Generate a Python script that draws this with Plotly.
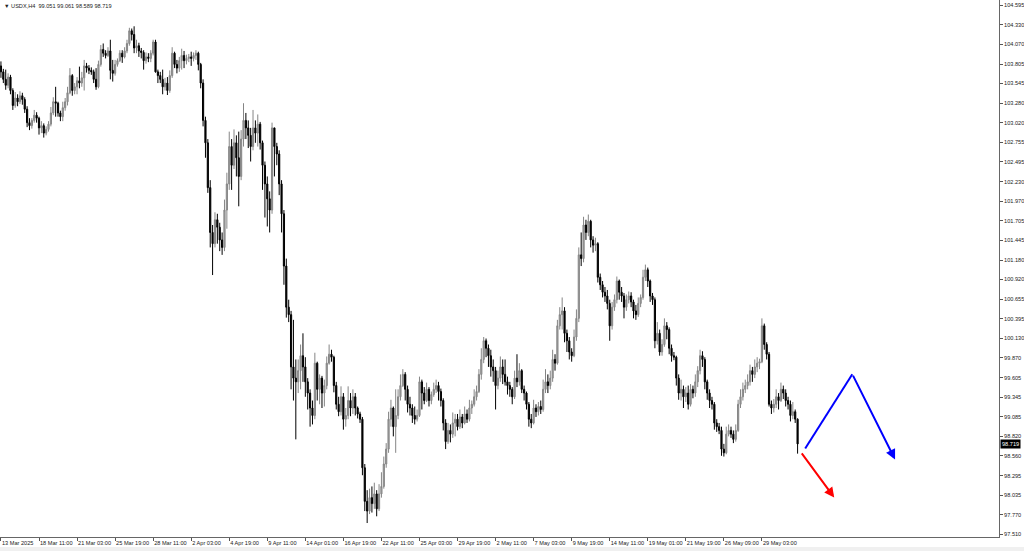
import plotly.graph_objects as go

# ---------------- data (USDX, H4) ----------------
first_open = 103.78
closes = [
    103.70,103.60,103.52,103.63,103.45,103.25,103.35,103.30,103.38,103.33,
    103.20,103.02,102.98,103.05,103.12,103.08,102.95,102.98,102.88,102.93,
    103.00,103.15,103.30,103.28,103.15,103.10,103.22,103.30,103.42,103.65,
    103.45,103.50,103.58,103.55,103.62,103.78,103.75,103.72,103.70,103.60,
    103.50,103.80,104.00,103.95,103.92,103.98,103.72,103.68,103.80,103.85,
    103.95,103.90,103.98,104.08,104.25,104.20,104.02,104.05,103.98,103.96,
    103.85,103.90,103.88,103.95,104.10,103.70,103.65,103.60,103.50,103.55,
    103.45,103.65,103.95,103.80,103.75,103.85,103.92,103.85,103.88,103.90,
    103.88,103.92,103.95,103.80,103.55,103.05,102.75,102.15,101.55,101.40,
    101.72,101.62,101.45,101.35,101.85,102.20,102.70,102.45,102.75,102.55,
    102.30,102.80,103.05,102.95,102.85,102.70,102.95,102.88,103.00,102.75,
    102.45,102.20,102.00,101.85,102.95,102.70,102.60,102.20,101.80,101.10,
    100.55,100.45,99.75,99.60,99.55,99.70,99.90,99.75,99.55,99.40,
    99.20,99.10,99.80,99.45,99.60,99.40,99.50,99.80,99.92,99.88,
    99.50,99.25,99.15,99.35,99.05,99.10,99.30,99.20,99.35,99.20,
    99.12,99.05,98.40,97.95,97.82,98.00,97.92,98.05,97.85,98.05,
    98.15,98.45,98.65,99.05,99.20,98.95,99.10,99.35,99.50,99.65,
    99.45,99.25,99.20,99.10,99.05,99.10,99.55,99.40,99.30,99.45,
    99.30,99.38,99.45,99.50,99.42,99.30,99.00,98.75,98.90,98.85,
    99.00,99.05,98.95,99.08,99.00,99.12,99.05,99.20,99.25,99.35,
    99.42,99.65,99.85,100.10,100.00,99.90,99.75,99.70,99.50,99.60,
    99.75,99.65,99.55,99.50,99.45,99.35,99.60,99.55,99.70,99.45,
    99.40,99.25,99.05,99.00,99.20,99.15,99.22,99.18,99.45,99.55,
    99.50,99.60,99.85,99.80,100.30,100.45,100.50,100.20,100.10,99.95,
    99.90,100.15,100.40,101.25,101.20,101.65,101.55,101.70,101.45,101.38,
    101.40,100.95,100.85,100.75,100.70,100.60,100.30,100.55,100.65,100.90,
    100.75,100.70,100.55,100.65,100.70,100.62,100.50,100.45,100.60,100.68,
    100.95,101.05,100.90,100.70,100.65,100.10,100.20,99.95,100.05,100.30,
    100.25,100.00,99.90,99.88,99.60,99.40,99.45,99.35,99.40,99.25,
    99.45,99.40,99.55,99.70,99.90,99.85,99.55,99.40,99.30,99.25,
    99.00,98.95,98.90,98.65,98.60,98.85,98.90,98.85,98.78,98.90,
    99.25,99.35,99.45,99.50,99.55,99.70,99.65,99.75,99.80,99.82,
    100.30,100.05,99.92,99.25,99.20,99.25,99.35,99.30,99.45,99.40,
    99.30,99.25,99.10,99.15,99.051,98.719,
]
highs = [
    103.84,103.74,103.73,103.68,103.66,103.48,103.43,103.40,103.44,103.42,
    103.36,103.24,103.08,103.08,103.19,103.16,103.10,103.04,103.01,102.97,
    103.04,103.23,103.36,103.50,103.30,103.18,103.30,103.35,103.50,103.75,
    103.67,103.55,103.63,103.77,103.70,103.86,103.82,103.79,103.76,103.73,
    103.75,103.85,104.06,104.08,103.99,104.03,104.13,103.86,103.86,103.88,
    103.99,103.99,104.03,104.13,104.29,104.28,104.31,104.13,104.09,104.02,
    103.99,103.96,103.95,103.99,104.13,104.13,103.73,103.70,103.73,103.62,
    103.63,103.72,104.03,103.97,103.86,103.90,104.01,103.98,103.93,103.94,
    103.97,103.96,103.99,103.97,103.82,103.60,103.10,102.80,102.25,101.65,
    101.82,101.80,101.68,101.55,101.99,102.35,102.90,102.80,102.93,102.85,
    102.90,102.92,103.28,103.15,103.05,102.95,103.19,103.05,103.13,103.03,
    102.78,102.50,102.30,102.10,103.02,102.95,102.75,102.65,102.25,101.85,
    101.20,100.65,100.50,100.38,99.85,99.85,100.05,100.20,99.88,99.60,
    99.45,99.30,99.94,99.82,99.65,99.63,99.58,99.89,100.05,99.98,
    99.90,99.55,99.35,99.49,99.40,99.20,99.49,99.40,99.45,99.40,
    99.22,99.15,99.08,98.45,98.10,98.12,98.15,98.20,98.10,98.18,
    98.34,98.55,98.73,99.15,99.31,99.22,99.45,99.45,99.65,99.72,
    99.68,99.50,99.35,99.25,99.22,99.18,99.62,99.58,99.48,99.54,
    99.48,99.42,99.54,99.58,99.55,99.46,99.33,99.05,99.00,98.98,
    99.14,99.12,99.12,99.18,99.12,99.22,99.18,99.31,99.30,99.45,
    99.50,99.72,100.00,100.15,100.13,100.05,99.98,99.85,99.75,99.70,
    99.89,99.85,99.85,99.62,99.55,99.48,99.70,99.92,99.80,99.72,
    99.50,99.42,99.28,99.12,99.31,99.25,99.28,99.30,99.58,99.72,
    99.65,99.70,99.98,99.92,100.38,100.55,100.68,100.55,100.25,100.15,
    100.00,100.25,100.52,101.35,101.55,101.76,101.72,101.79,101.72,101.50,
    101.48,101.42,101.00,100.90,100.82,100.78,100.65,100.62,100.72,100.96,
    100.92,100.82,100.74,100.72,100.76,100.75,100.65,100.58,100.68,100.72,
    101.05,101.12,101.08,100.92,100.74,100.68,100.35,100.25,100.12,100.40,
    100.35,100.28,100.05,99.95,99.90,99.65,99.58,99.50,99.48,99.50,
    99.52,99.50,99.65,99.76,99.98,99.96,99.88,99.58,99.45,99.35,
    99.28,99.05,99.00,98.95,98.72,98.95,98.98,98.95,98.90,98.98,
    99.31,99.45,99.54,99.58,99.65,99.78,99.75,99.85,99.88,99.86,
    100.40,100.33,100.08,99.95,99.30,99.32,99.45,99.40,99.54,99.50,
    99.45,99.35,99.30,99.28,99.18,99.061,
]
lows = [
    103.62,103.55,103.46,103.48,103.40,103.19,103.22,103.24,103.27,103.26,
    103.15,102.96,102.92,102.94,103.02,103.02,102.86,102.88,102.82,102.85,
    102.90,102.97,103.12,103.10,103.10,103.04,103.04,103.18,103.25,103.40,
    103.38,103.40,103.40,103.48,103.50,103.45,103.69,103.67,103.66,103.55,
    103.46,103.48,103.77,103.90,103.88,103.90,103.60,103.57,103.65,103.77,
    103.83,103.82,103.88,103.95,104.05,104.12,103.95,103.95,103.90,103.88,
    103.73,103.81,103.83,103.83,103.92,103.69,103.55,103.55,103.40,103.45,
    103.39,103.42,103.62,103.75,103.68,103.70,103.73,103.75,103.80,103.83,
    103.78,103.84,103.86,103.72,103.48,102.97,102.55,102.08,101.35,100.98,
    101.35,101.40,101.30,101.25,101.30,101.60,102.12,102.12,102.40,102.30,
    101.90,102.25,102.70,102.80,102.68,102.50,102.65,102.75,102.70,102.66,
    102.12,101.75,101.63,101.55,101.80,102.30,102.45,102.05,101.55,100.85,
    100.41,100.35,99.45,99.30,98.78,99.40,99.45,99.55,99.35,99.18,
    98.95,98.98,99.05,99.30,99.25,99.20,99.22,99.45,99.78,99.82,
    99.41,99.18,99.09,99.10,98.91,98.95,99.05,99.09,99.12,99.10,
    99.06,99.00,98.30,97.82,97.66,97.78,97.80,97.85,97.75,97.82,
    98.00,98.12,98.40,98.60,98.95,98.82,98.60,99.05,99.30,99.48,
    99.30,99.14,99.10,99.00,98.98,99.02,99.08,99.18,99.25,99.28,
    99.22,99.25,99.35,99.40,99.30,99.22,98.90,98.65,98.72,98.74,
    98.80,98.82,98.90,98.92,98.93,98.98,99.00,99.02,99.12,99.22,
    99.30,99.40,99.58,99.80,99.88,99.75,99.62,99.55,99.18,99.45,
    99.55,99.52,99.50,99.38,99.35,99.25,99.32,99.48,99.50,99.40,
    99.30,99.18,98.95,98.93,98.98,99.08,99.10,99.12,99.15,99.40,
    99.40,99.45,99.55,99.70,99.78,100.25,100.25,100.08,99.95,99.85,
    99.82,99.88,100.10,100.35,101.10,101.15,101.45,101.50,101.35,101.28,
    101.30,100.88,100.78,100.68,100.62,100.52,100.10,100.25,100.50,100.60,
    100.65,100.62,100.40,100.50,100.60,100.55,100.40,100.38,100.42,100.55,
    100.65,100.90,100.82,100.62,100.58,100.00,100.05,99.90,99.90,100.02,
    100.12,99.92,99.82,99.84,99.50,99.31,99.30,99.20,99.28,99.18,
    99.22,99.33,99.35,99.48,99.65,99.75,99.45,99.31,99.20,99.18,
    98.91,98.88,98.85,98.56,98.55,98.58,98.82,98.80,98.73,98.75,
    98.88,99.20,99.30,99.40,99.45,99.50,99.55,99.60,99.68,99.72,
    99.80,99.98,99.85,99.22,99.12,99.14,99.20,99.18,99.28,99.32,
    99.22,99.18,99.02,99.05,99.00,98.589,
]

# time-axis labels (every 16 H4 bars)
xtick_idx = [0, 16, 32, 48, 64, 80, 96, 112, 128, 144, 160, 176, 192, 208,
             224, 240, 256, 272, 288, 304, 320]
xtick_text = ["13 Mar 2025", "18 Mar 11:00", "21 Mar 03:00", "25 Mar 19:00",
              "28 Mar 11:00", "2 Apr 03:00", "4 Apr 19:00", "9 Apr 11:00",
              "14 Apr 01:00", "16 Apr 19:00", "22 Apr 11:00", "25 Apr 03:00",
              "29 Apr 19:00", "2 May 11:00", "7 May 03:00", "9 May 19:00",
              "14 May 11:00", "19 May 01:00", "21 May 19:00", "26 May 09:00",
              "29 May 03:00"]
ytick_vals = [104.595, 104.330, 104.070, 103.805, 103.545, 103.280, 103.020,
              102.755, 102.495, 102.230, 101.970, 101.705, 101.445, 101.180,
              100.920, 100.655, 100.395, 100.130, 99.870, 99.605, 99.345,
              99.085, 98.820, 98.560, 98.295, 98.035, 97.770, 97.510]
ytick_text = ["%.3f" % v for v in ytick_vals]

header_text = "USDX,H4  99.051 99.061 98.589 98.719"
last_price = 98.719

# projection arrows: (bar index, price)
blue_path = [(338.2, 98.657), (358.0, 99.653), (376.0, 98.510)]
red_path = [(336.3, 98.612), (350.4, 98.001)]

# ---------------- figure ----------------
opens = [first_open] + closes[:-1]
idx = list(range(len(closes)))

FONT = "Liberation Sans"
fs = 5.6

fig = go.Figure(go.Candlestick(
    x=idx, open=opens, high=highs, low=lows, close=closes,
    increasing=dict(line=dict(color="#858585", width=1), fillcolor="#a5a5a5"),
    decreasing=dict(line=dict(color="#000000", width=1), fillcolor="#000000"),
    whiskerwidth=0, hoverinfo="skip", showlegend=False,
))

shapes = [
    dict(type="rect", xref="paper", yref="paper", x0=-0.01, x1=1.03,
         y0=-0.03, y1=-(547 - 537) / 537, fillcolor="#f0f0f0",
         line=dict(width=0), layer="below"),
    dict(type="line", xref="x", yref="y",
         x0=blue_path[0][0], y0=blue_path[0][1],
         x1=blue_path[1][0], y1=blue_path[1][1],
         line=dict(color="#0000ff", width=2)),
]

annotations = [
    dict(xref="x", yref="y", axref="x", ayref="y",
         x=blue_path[2][0], y=blue_path[2][1],
         ax=blue_path[1][0], ay=blue_path[1][1],
         showarrow=True, arrowhead=2, arrowsize=1.0, arrowwidth=2,
         arrowcolor="#0000ff", text=""),
    dict(xref="x", yref="y", axref="x", ayref="y",
         x=red_path[1][0], y=red_path[1][1],
         ax=red_path[0][0], ay=red_path[0][1],
         showarrow=True, arrowhead=2, arrowsize=1.0, arrowwidth=2,
         arrowcolor="#ff0000", text=""),
    dict(xref="paper", yref="paper", x=0, y=1, xanchor="left", yanchor="top",
         xshift=2, yshift=-1, showarrow=False,
         text="\u25BC " + header_text,
         font=dict(family=FONT, size=fs, color="#222222")),
    dict(xref="paper", yref="y", x=1, y=last_price, xanchor="left",
         yanchor="middle", xshift=1, showarrow=False,
         text="%.3f" % last_price, bgcolor="#000000", borderpad=1,
         font=dict(family=FONT, size=fs, color="#ffffff")),
]

fig.update_layout(
    width=1024, height=551,
    margin=dict(l=0, r=25, t=0, b=14, pad=0, autoexpand=False),
    paper_bgcolor="white", plot_bgcolor="white",
    font=dict(family=FONT, size=fs, color="#222222"),
    shapes=shapes, annotations=annotations,
    xaxis=dict(
        range=[-0.4, 419.7], rangeslider=dict(visible=False),
        showgrid=False, zeroline=False, automargin=False,
        tickmode="array", tickvals=xtick_idx, ticktext=xtick_text,
        tickangle=0,
        ticks="outside", ticklen=3, tickcolor="#555555", tickwidth=1,
        ticklabelposition="outside right",
        tickfont=dict(family=FONT, size=fs, color="#222222"),
        showline=True, linecolor="#666666", linewidth=1, mirror=True,
    ),
    yaxis=dict(
        side="right", range=[97.473, 104.662],
        showgrid=False, zeroline=False, automargin=False,
        tickmode="array", tickvals=ytick_vals, ticktext=ytick_text,
        ticks="outside", ticklen=3, tickcolor="#555555", tickwidth=1,
        tickfont=dict(family=FONT, size=fs, color="#222222"),
        showline=True, linecolor="#666666", linewidth=1, mirror=True,
    ),
)

fig.write_html(
    "out.html",
    config={"displayModeBar": False},
    post_script="document.body.style.margin='0px';document.body.style.padding='0px';",
)
